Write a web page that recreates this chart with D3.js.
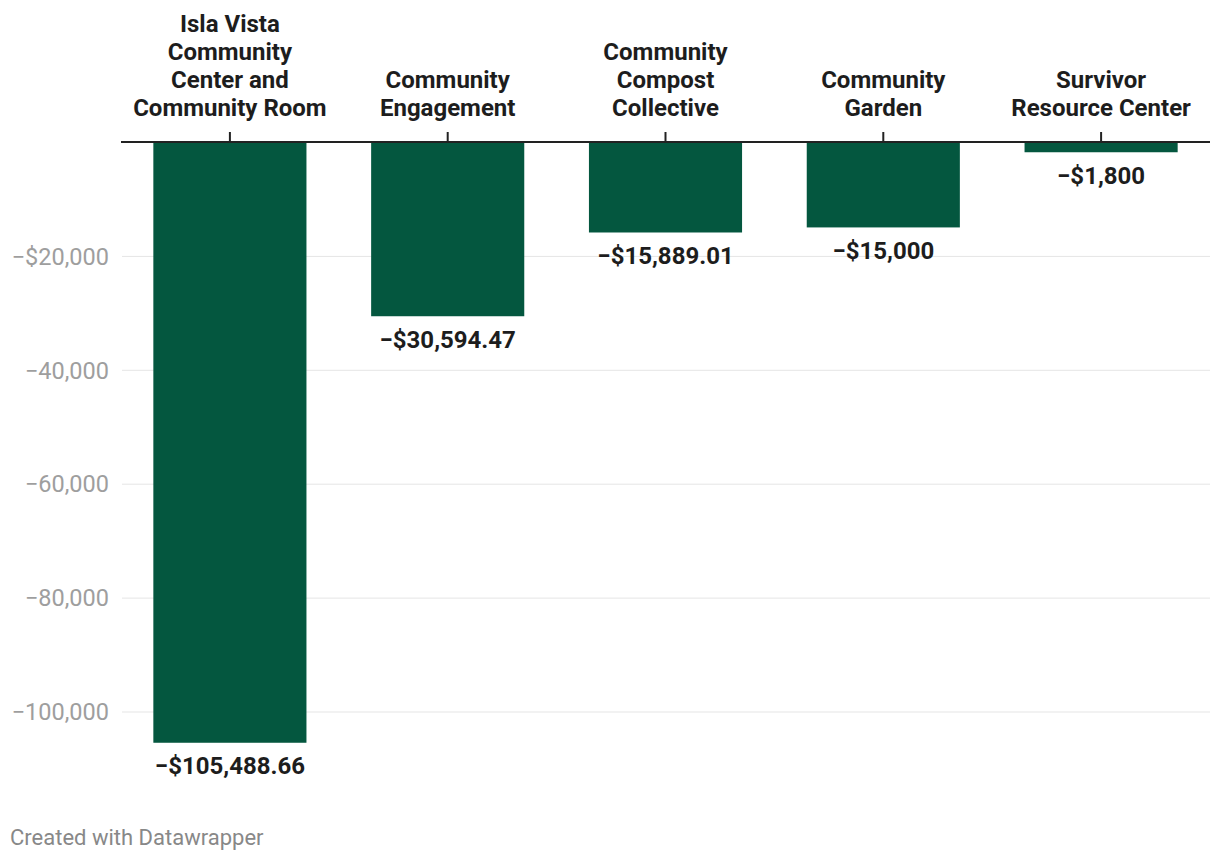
<!DOCTYPE html>
<html>
<head>
<meta charset="utf-8">
<script src="https://cdn.jsdelivr.net/npm/d3@7"></script>
<style>
  html, body { margin: 0; padding: 0; background: #fff; }
  svg { display: block; font-family: Roboto, "Noto Sans", sans-serif; }
</style>
</head>
<body>
<svg id="chart" width="1220" height="862"></svg>
<script>
const categories = [
  ["Isla Vista", "Community", "Center and", "Community Room"],
  ["Community", "Engagement"],
  ["Community", "Compost", "Collective"],
  ["Community", "Garden"],
  ["Survivor", "Resource Center"]
];
const categoryKeys = ["Isla Vista Community Center and Community Room", "Community Engagement", "Community Compost Collective", "Community Garden", "Survivor Resource Center"];
const values = [-105488.66, -30594.47, -15889.01, -15000, -1800];
const valueLabels = ["−$105,488.66", "−$30,594.47", "−$15,889.01", "−$15,000", "−$1,800"];
const tickValues = [-20000, -40000, -60000, -80000, -100000];
const tickLabels = ["−$20,000", "−40,000", "−60,000", "−80,000", "−100,000"];

const svg = d3.select("#chart");
const plotLeft = 121, plotRight = 1210, plotTop = 142;

const x = d3.scaleBand().domain(categoryKeys).range([plotLeft, plotRight]).paddingInner(0.297).paddingOuter(0.1485);
const y = d3.scaleLinear().domain([0, -100000]).range([plotTop, plotTop + 569.5]);

// gridlines + tick labels
const yAxis = d3.axisLeft(y).tickValues(tickValues).tickSize(0).tickFormat((d, i) => tickLabels[i]);
const gy = svg.append("g").attr("transform", `translate(${plotLeft},0)`).call(yAxis);
gy.select(".domain").remove();
gy.selectAll("text").attr("x", -12).attr("dy", "0.35em").attr("fill", "#9e9e9e").style("font-size", "23.5px").style("font-family", "Roboto");
gy.selectAll(".tick").append("line").attr("x1", 1).attr("x2", plotRight - plotLeft).attr("stroke", "#e5e5e5").attr("stroke-width", 1);

// bars
svg.append("g").selectAll("rect").data(values).join("rect")
  .attr("x", (d, i) => x(categoryKeys[i]))
  .attr("width", x.bandwidth())
  .attr("y", y(0))
  .attr("height", d => y(d) - y(0))
  .attr("fill", "#04573f");

// baseline
svg.append("line").attr("x1", plotLeft).attr("x2", plotRight).attr("y1", y(0)).attr("y2", y(0)).attr("stroke", "#222").attr("stroke-width", 2);

// top axis with ticks
const xAxis = d3.axisTop(x).tickSize(10).tickFormat("");
const gx = svg.append("g").attr("transform", `translate(0,${y(0)})`).call(xAxis);
gx.select(".domain").remove();
gx.selectAll(".tick line").attr("stroke", "#222").attr("stroke-width", 2);

// category labels
const lineH = 28;
categories.forEach((lines, i) => {
  const cx = x(categoryKeys[i]) + x.bandwidth() / 2;
  const t = svg.append("text").attr("text-anchor", "middle").attr("fill", "#1d1d1d")
    .style("font-size", "24px").style("font-weight", "700");
  lines.forEach((ln, j) => {
    t.append("tspan").attr("x", cx).attr("y", 115.5 - (lines.length - 1 - j) * lineH).text(ln);
  });
});

// value labels
svg.append("g").selectAll("text").data(values).join("text")
  .attr("x", (d, i) => x(categoryKeys[i]) + x.bandwidth() / 2)
  .attr("y", d => y(d) + 31.5)
  .attr("text-anchor", "middle")
  .attr("fill", "#1d1d1d")
  .style("font-size", "24px").style("font-weight", "700")
  .text((d, i) => valueLabels[i]);

// footer
svg.append("text").attr("x", 10).attr("y", 845).attr("fill", "#888").style("font-size", "22px").text("Created with Datawrapper");
</script>
</body>
</html>
